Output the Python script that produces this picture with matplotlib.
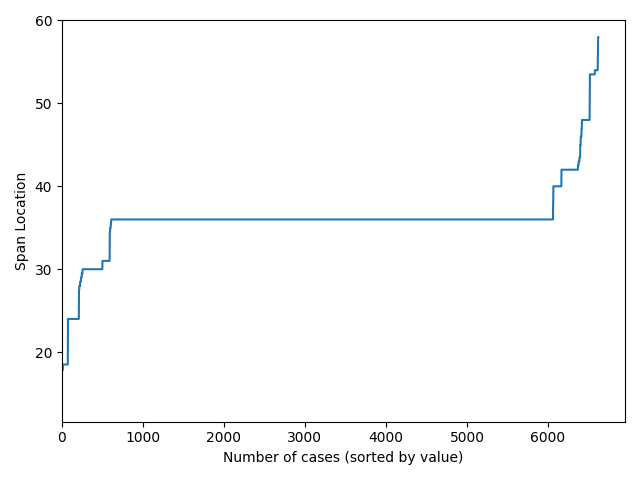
import numpy as np
import matplotlib
matplotlib.use('Agg')
import matplotlib.pyplot as plt

# valores ordenados: (valor, quantidade de casos)
valores = [17.8, 18.5, 24, 27.5, 28, 28.5, 29, 29.5, 30, 31, 34.5, 35, 35.5,
           36, 38, 40, 42, 42.5, 43, 43.5, 45, 46, 47, 48, 50, 53.5, 54, 56, 58]
contagens = [12, 62, 136, 5, 10, 10, 10, 10, 245, 90, 5, 8, 5,
             5455, 3, 100, 204, 8, 10, 10, 6, 10, 5, 96, 2, 62, 36, 3, 3]

span = np.repeat(valores, contagens)

fig, ax = plt.subplots(figsize=(6.4, 4.8), dpi=100)
ax.plot(np.arange(len(span)), span)
ax.set_xlim(left=0)
ax.set_ylim(11.6, 60)
ax.set_xlabel('Number of cases (sorted by value)')
ax.set_ylabel('Span Location')
fig.tight_layout()
fig.savefig('out.png')
